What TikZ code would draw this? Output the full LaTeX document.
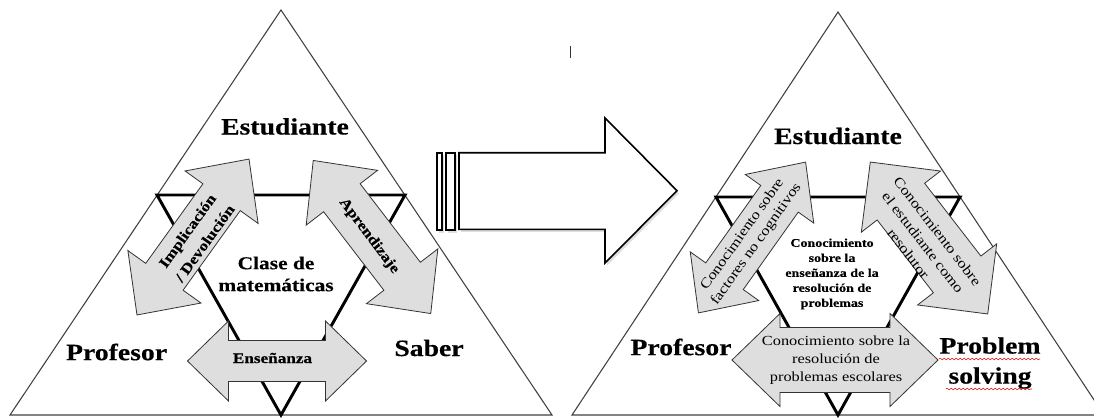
\documentclass[tikz,border=0pt]{standalone}
\usepackage{fontspec}
\setmainfont{Liberation Serif}[FakeStretch=1.18, BoldFeatures={FakeBold=0.35}]
\usetikzlibrary{shadows,decorations.pathmorphing}
\tikzset{
  x=0.75pt, y=-0.75pt,
  bigtri/.style={draw=black!75, line width=0.8pt, line join=miter},
  innertri/.style={draw=black, line width=2.2pt, line join=miter},
  dblarrow/.style={draw=black!80, fill=black!13, line width=0.6pt, line join=miter},
  bigarrow/.style={draw=black, fill=white, line width=1.2pt, line join=miter,
    drop shadow={opacity=0.25, shadow xshift=1.5pt, shadow yshift=-2pt}},
  biglabel/.style={font=\fontsize{17.6}{22.5}\selectfont\bfseries, inner sep=0pt, align=center},
  midlabel/.style={font=\fontsize{10.9}{16}\selectfont\bfseries, inner sep=0pt, align=center},
  reglabel/.style={font=\fontsize{10.5}{13.5}\selectfont, inner sep=0pt, align=center},
  spell/.style={draw=red!85!black, line width=0.4pt, decorate,
    decoration={snake, segment length=3pt, amplitude=0.6pt}}
}
% #1 cx, #2 cy, #3 angle, #4 length, #5 head length, #6 head half-width, #7 shaft half-width
\newcommand{\DblArrow}[7]{%
  \begin{scope}[shift={(#1,#2)}, rotate=#3]
    \path[dblarrow] ({-#4/2},0) -- ({-#4/2+#5},#6) -- ({-#4/2+#5},#7)
      -- ({#4/2-#5},#7) -- ({#4/2-#5},#6) -- ({#4/2},0)
      -- ({#4/2-#5},-#6) -- ({#4/2-#5},-#7) -- ({-#4/2+#5},-#7)
      -- ({-#4/2+#5},-#6) -- cycle;
  \end{scope}}
\begin{document}
\begin{tikzpicture}
\useasboundingbox (0,0) rectangle (1094,418);
\clip (0,0) rectangle (1094,418);

% ---------- left figure ----------
\draw[bigtri] (281,10) -- (552,415) -- (10,415) -- cycle;
\draw[innertri] (157,195) -- (405,195) -- (281,415) -- cycle;
\DblArrow{193}{237}{54.3}{192}{47}{45}{23}
\DblArrow{372}{237}{-52.5}{193}{47}{45}{23}
\DblArrow{277}{361}{0}{179}{41}{40}{20.5}

\node[biglabel] (est1) at (285,126.5) {Estudiante};
\node[biglabel] (prof1) at (116.6,352) {Profesor};
\node[biglabel] (sab1) at (429,348) {Saber};
\node[font=\fontsize{13.6}{16.5}\selectfont\bfseries, inner sep=0pt, align=center] (clase) at (276,274) {Clase de\\matemáticas};
\node[midlabel] (ens) at (272.5,358) {Enseñanza};
\node[midlabel, rotate=54.3] (impl) at (196,237) {Implicación\\/ Devolución};
\node[midlabel, rotate=-53] (apr) at (369,236) {Aprendizaje};

% ---------- central arrow ----------
\draw[bigarrow] (436.7,152.7) rectangle (441.7,230);
\draw[bigarrow] (445.7,152.7) rectangle (455,230);
\draw[bigarrow] (459,152.7) -- (605,152.7) -- (605,118) -- (677,190.7)
  -- (605,263) -- (605,229.3) -- (459,229.3) -- cycle;
\coordinate (tick) at (570,46);
\draw[black!80, line width=0.7pt] (tick) -- ++(0,12);

% ---------- right figure ----------
\draw[bigtri] (838,12) -- (1104,415) -- (572,415) -- cycle;
\draw[innertri] (716,197) -- (960,197) -- (838,415) -- cycle;
\DblArrow{752}{237.5}{54.6}{185}{45}{42}{23}
\DblArrow{929}{238}{-52.3}{192}{50}{50}{30}
\DblArrow{835}{360}{0}{206}{48}{46.5}{32.5}

\node[biglabel] (est2) at (838,136) {Estudiante};
\node[biglabel] (prof2) at (681,347) {Profesor};
\node[biglabel] (prob) at (990,363) {Problem\\solving};
\draw[spell] (939,359) -- (1040,359);
\draw[spell] (946,389) -- (1032,389);
\node[font=\fontsize{8.9}{11.25}\selectfont\bfseries, inner sep=0pt, align=center] (conoc) at (832,274)
  {Conocimiento\\sobre la\\enseñanza de la\\resolución de\\problemas};
\node[reglabel, font=\fontsize{10.4}{13.5}\selectfont] (esc) at (836,360)
  {Conocimiento sobre la\\resolución de\\problemas escolares};
\node[reglabel, font=\fontsize{10.5}{12.75}\selectfont, rotate=54.6] (fact) at (749.5,239.5)
  {Conocimiento sobre\\factores no cognitivos};
\node[reglabel, font=\fontsize{10.5}{13.8}\selectfont, rotate=-52.3] (resol) at (923,242.5)
  {Conocimiento sobre\\el estudiante como\\resolutor};
\end{tikzpicture}
\end{document}
